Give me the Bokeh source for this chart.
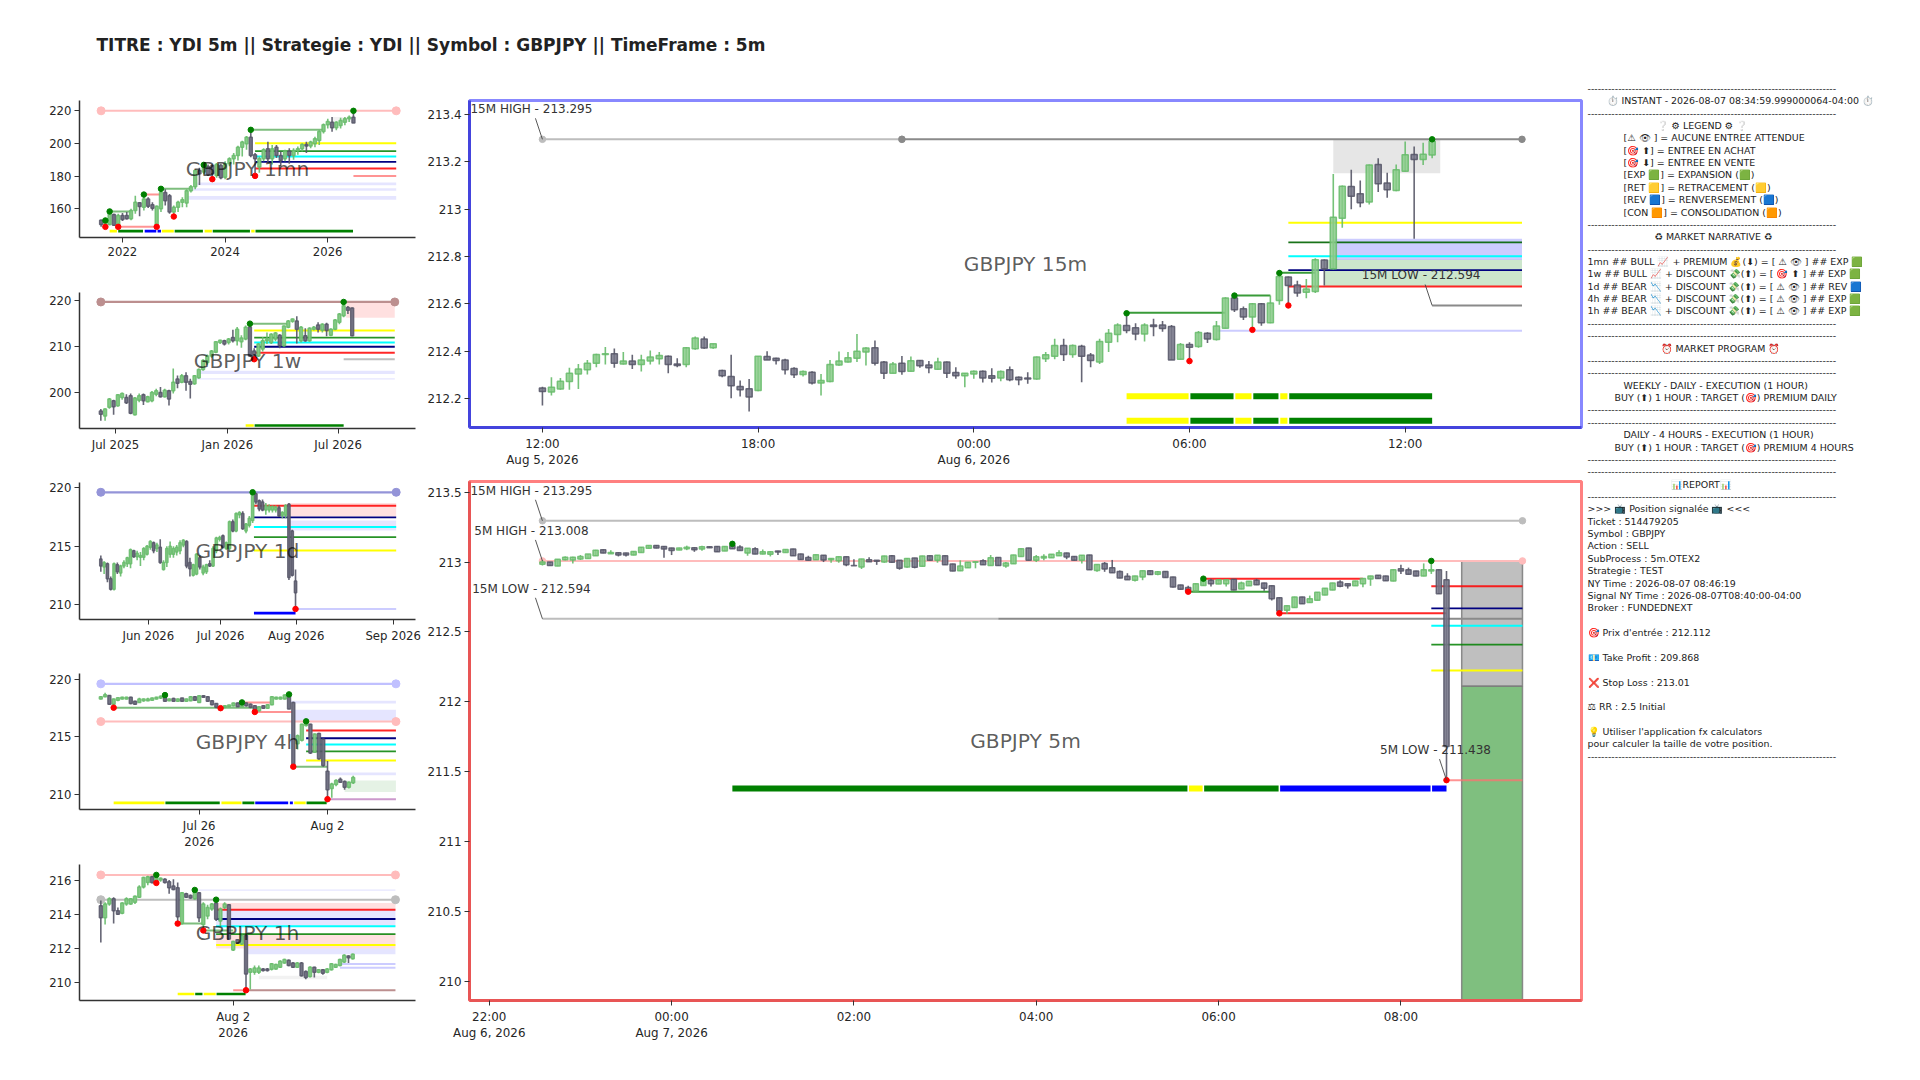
from bokeh.plotting import figure
from bokeh.layouts import row, column
from bokeh.models import Range1d, FixedTicker
from bokeh.core.properties import value
from bokeh.embed import file_html
from bokeh.resources import INLINE

TITLE = "TITRE : YDI 5m || Strategie : YDI || Symbol : GBPJPY || TimeFrame : 5m"

# candles are (open, close, high, low)
CANDLES_1MN = [
(153,150.5,153.5,149),(151,153,153,149),(150.5,157,158,150),(156.5,150,157,149.5),(150,156,157,149),(156,153.5,157.5,152.5),
(156,154,158,153.5),(154,159,160,153),(159,164,168,157),(163.7,161.4,164,155.5),(161,166,170,159),(166,161.5,167,160.5),
(162.5,160.3,164,159),(150,161.5,162,149),(160,170,171.5,158),(170,165,172,162),(168,158,169,157),(158,161,162,156),
(161,164,165,158),(164,165.5,167,161),(163.5,171,172,161),(171,173.5,174.5,170),(173.5,183.4,184,172),(183.4,181.4,185,174.6),
(182.4,185.8,187,181),(185.8,181,187,180),(186.4,181.4,187,178.5),(180.3,187,188,179),(186.4,179,187.5,178),(179.3,187.5,189,178),
(187.5,190.5,191.5,186),(190.5,192.5,194,187),(192.5,197.6,198.5,189.5),(197.6,200.7,201.5,192),(199.7,203.7,204.5,196),(203.7,192.5,208,191.5),
(193,190.5,194,181.5),(185.5,190.5,192,182),(190.5,196,197,189),(196.6,190.5,201,188),(190.5,196.6,199,187),(197.6,192.5,199,191),
(192.5,189.5,195,186),(190.5,195.2,196,189),(195.2,192.5,197,187.5),(192.5,195.6,197,190),(195.6,196.6,198,193),(196.6,199.3,200,195),
(199.3,198.3,201,194),(198.3,200.7,201.5,197),(199.7,202.7,204,197.5),(201.7,207.2,208,199),(207.2,211.3,212,206),(211.3,213.3,215,209),
(212.9,209.4,216,207),(209.4,212.9,213.5,208),(210.8,213.9,215.5,209),(212.9,214.9,216,211),(214.9,215.9,217,213),(215.9,212.3,219.6,212.3),
]
CANDLES_1W = [
(196,195.3,196.4,193.9),(194.9,196.4,196.6,193.9),(196.8,198.6,198.8,196.5),(198.2,196.9,198.4,195.2),(197.1,199.5,199.6,196.9),(198.9,199.8,200,198.4),
(198.9,197.8,199.6,197.5),(199.3,195.5,199.8,195.3),(195.2,198.8,199,195),(198.3,199.3,199.8,197.9),(199.5,198.2,199.8,197.3),(198,199.1,199.3,197.9),
(198.2,200,200.3,197.9),(199.6,200.4,200.8,199.2),(200,199.1,201.2,198.9),(199.1,200.5,200.8,198.9),(200.4,198.6,200.6,197.2),(200.4,202.2,205.2,199.8),
(202.9,202,203.7,200.9),(202.2,203.6,204,202),(203.6,202.2,204.4,200.4),(202.4,201.8,203,198.7),(201.9,203.6,203.8,201.7),(203.2,205,205.2,203),
(205,206.9,207.2,204.7),(206.5,207.9,208.2,206),(207.9,209,209.2,207.5),(208.7,211,211.1,208.5),(210.8,211.3,211.4,210.5),(211.2,210.5,211.4,210.2),
(210.8,211.6,211.8,210.4),(211.9,211.2,213.6,210.8),(211.2,213.7,214.2,210.2),(211,211.8,212.4,209.7),(211.6,214.1,214.5,211.3),(214.2,207.9,214.9,207.7),
(209,207.9,209.6,207.3),(207.9,210.5,210.7,207.7),(209.4,211.2,212,208.9),(211.2,211.6,213,210.5),(210.8,212.6,212.8,210.5),(211.6,212.9,213.1,211.1),
(212.4,210.1,212.6,209.6),(210.1,214.4,214.5,209.9),(214.1,215.5,215.7,213.9),(215.4,215.9,216,215.1),(215.5,213.7,216.5,210.6),(211.2,214.1,214.4,210.8),
(212.3,211.2,213.9,211),(211.2,213.9,214.1,211),(213.7,214.1,214.4,213.4),(214.6,213.7,215.2,213),(213.5,214.8,215,213),(214.8,213.4,215.1,212.2),
(212.4,213.7,213.9,212.2),(213.7,215.7,215.9,213.5),(215.2,217,217.2,214.8),(216.6,218.8,219.6,216.3),(218.4,217.8,218.7,217),(218.3,212.3,218.4,212.2),
]
CANDLES_1D = [
(213.9,213.3,214.2,212.8),(213.2,213.6,213.7,212.6),(213.5,212.2,213.6,211.9),(212.2,211.3,212.4,211.2),(211.3,213.5,213.6,211.2),(213.4,212.8,213.6,212.6),
(212.7,213.3,213.4,212.4),(213.3,213.6,213.8,213.1),(213.5,214,214.1,213.2),(213.5,214.7,214.8,213.1),(214.6,214.1,214.7,214),(214.1,214.4,214.6,213.8),
(214.05,214.2,214.5,213.3),(214.05,214.8,214.9,213.8),(214.3,215,215.1,214.2),(214.9,215.4,215.5,214.7),(215.3,214.6,215.4,214.4),(214.8,215.1,215.3,214.5),
(214.9,213.6,215.6,213.5),(213,213.6,213.8,212.9),(213.6,214.8,215,213.2),(214.3,215,215.4,214),(214.3,214.8,215,214),(214.5,214.9,215.1,214.2),
(214.6,215.3,215.5,214.3),(215.1,215.5,215.6,214.9),(215.4,213.3,215.5,213.1),(213.6,213.05,214,212.4),(212.5,213.4,213.5,212.4),(212.6,214.3,214.4,212.5),
(214,213.2,214.2,213),(212.7,213.2,213.4,212.5),(212.8,213.4,213.5,212.6),(213.5,213.3,213.8,213.2),(213.3,214.8,215,213.2),(214.6,215.7,215.8,214.4),
(215.6,215.75,215.9,215.4),(215.9,214.9,216,214.8),(214.8,215.3,215.4,214.7),(214.8,217.1,217.2,214.6),(217.1,216.3,217.3,216.2),(216.3,217.8,217.9,216.2),
(217.7,217.9,218,217.4),(217.8,216.5,218,216.4),(216.3,216.9,217,216.1),(216.8,217.4,217.6,216.6),(217.2,219.6,219.6,217),(219.5,218.8,219.6,218.6),
(218.9,218.2,219,218),(218.8,218.1,219,218),(218.1,218.5,218.7,217.7),(218.1,218.4,218.6,217.9),(218.1,218.4,218.5,217.9),(218.1,218.35,218.5,217.9),
(218.3,217.6,218.5,217.5),(217.65,217.9,218,217.4),(217.65,218.5,218.6,217.4),(218.6,212.3,218.7,212.1),(216.3,212.5,216.4,212.4),(212,211,213,209.6),
]
CANDLES_4H = [
(218.3,218.5,218.55,218.25),(218.5,218.67,218.85,218.45),(218.6,217.85,218.65,217.8),(217.85,218.3,218.35,217.5),(218.2,218.4,218.45,218.1),(218.3,218.45,218.5,218.25),
(218.3,218.45,218.5,218.25),(218.45,217.9,218.5,217.85),(218.1,217.85,218.15,217.8),(218,218.3,218.4,217.95),(218.15,218.3,218.35,218.05),(218.15,218.3,218.4,218.1),
(218.2,218.38,218.42,218.15),(218.3,218.45,218.5,218.25),(218.38,218.53,218.6,218.3),(218.45,218.1,218.65,218.05),(218.15,218.3,218.35,218.1),(218.35,218.1,218.4,218.05),
(218.1,218.3,218.35,218.05),(218.38,218.1,218.4,218.05),(218.1,218.3,218.35,218.05),(218.15,218.5,218.55,218.1),(218.5,218.2,218.55,218.15),(218,218.58,218.6,217.95),
(218.58,218.44,218.62,218.4),(218.5,218.1,218.55,218.05),(218.15,217.8,218.2,217.75),(217.9,217.57,217.95,217.5),(217.43,217.57,217.6,217.4),(217.57,217.7,217.75,217.5),
(217.63,217.77,217.8,217.6),(217.7,217.95,218,217.65),(217.95,217.63,218,217.6),(217.63,218,218.05,217.6),(217.95,217.7,218,217.65),(217.85,217.57,217.9,217.5),
(217.7,217.35,217.75,217.3),(217.28,217.63,217.65,217.2),(217.7,217.5,217.75,217.45),(217.5,217.8,217.85,217.45),(217.8,218.5,218.55,217.75),(218.3,218.45,218.5,218.25),
(218.3,218.45,218.5,218.25),(218.3,218.64,218.7,218.25),(218.58,217.43,218.7,217.4),(218,212.4,218.05,212.4),(214.4,215.1,215.2,213.9),(214.7,216.1,216.15,214.6),
(216,216.35,216.4,215.9),(216.1,213.6,216.15,213.5),(213.65,215.25,215.3,213.6),(215.3,213.1,215.35,213),(214.8,212.5,214.85,212.4),(212,210.4,212.9,209.6),
(210.5,210.9,211,209.7),(210.85,211.2,211.3,210.7),(211.3,211.05,211.45,211),(211.1,210.6,211.2,210.4),(210.6,211.05,211.1,210.5),(211,211.45,211.6,210.9),
]
CANDLES_1H = [
(214.5,213.8,214.8,212.35),(213.8,214.6,214.7,213.4),(214.6,214.9,215,214.5),(214.9,214.2,215,213.45),(214.2,214,214.4,213.95),(214.05,214.65,214.7,214),
(214.6,214.9,215,214.5),(214.6,214.9,214.95,214.55),(214.7,215.05,215.1,214.6),(215,215.6,215.7,214.95),(215.6,216.15,216.2,215.5),(215.85,216.2,216.25,215.7),
(216.2,215.85,216.25,215.8),(215.95,216.15,216.35,215.85),(216,216.1,216.15,215.9),(216.05,215.85,216.1,215.8),(215.9,215.55,216,215.2),(215.65,215.45,216.05,215.4),
(215.55,213.85,215.85,213.5),(213.45,215.25,215.3,213.4),(215.2,215,215.25,214.95),(215.1,214.95,215.15,214.9),(214.9,215.3,215.55,214.85),(215.25,213.8,215.3,213.55),
(213.4,214.6,214.7,213.2),(213.9,214.4,214.55,213.7),(214.3,214.6,214.65,214.2),(214.65,213.7,214.85,213.6),(213.6,214.3,214.4,213.3),(214.4,214.6,214.7,214.3),
(214.55,212.55,214.6,212.5),(211.9,212.4,212.45,211.85),(212.5,212.3,212.55,212.25),(212.25,212.75,212.8,212.2),(212.75,210.5,212.8,209.55),(210.6,210.8,210.85,209.6),
(210.6,210.85,211,210.45),(210.6,210.85,211,210.5),(210.8,210.7,210.85,210.65),(210.8,210.7,210.85,210.65),(210.78,211.1,211.15,210.7),(210.8,211.05,211.1,210.75),
(210.9,211.25,211.3,210.85),(211.15,211.35,211.4,211.1),(211.3,211,211.35,210.95),(211.15,210.9,211.2,210.85),(210.9,211.15,211.2,210.85),(211.15,210.4,211.2,210.35),
(210.65,210.3,210.7,210.2),(210.35,210.9,210.95,210.3),(210.9,210.6,210.92,210.3),(210.6,210.75,210.8,210.55),(210.75,210.55,210.8,210.45),(210.6,210.8,210.85,210.55),
(210.75,211.1,211.15,210.7),(210.9,211.05,211.1,210.85),(211,211.35,211.4,210.95),(211.2,211.6,211.65,211.15),(211.55,211.45,211.6,211.15),(211.4,211.65,211.7,211.35),
]
CANDLES_15M = [
(212.244,212.23,212.25,212.17),(212.227,212.248,212.29,212.213),(212.24,212.273,212.287,212.237),(212.272,212.307,212.33,212.237),(212.304,212.325,212.346,212.24),
(212.321,212.349,212.363,212.301),(212.349,212.386,212.389,212.332),(212.386,212.389,212.418,212.344),(212.389,212.349,212.411,212.33),(212.346,212.358,212.396,212.344),
(212.358,212.344,212.385,212.325),(212.344,212.363,212.385,212.314),(212.358,212.375,212.403,212.344),(212.368,212.382,212.396,212.344),(212.379,212.344,212.382,212.307),
(212.346,212.339,212.37,212.332),(212.344,212.414,212.417,212.332),(212.41,212.456,212.462,212.406),(212.451,212.413,212.462,212.41),(212.414,212.431,212.431,212.41),
(212.318,212.296,212.321,212.29),(212.293,212.254,212.385,212.201),(212.251,212.237,212.276,212.208),(212.241,212.206,212.282,212.145),(212.234,212.379,212.379,212.231),
(212.377,212.363,212.4,212.363),(212.37,212.361,212.372,212.344),(212.363,212.321,212.368,212.301),(212.327,212.3,212.332,212.287),(212.301,212.314,212.318,212.293),
(212.311,212.265,212.315,212.259),(212.265,212.276,212.304,212.213),(212.272,212.344,212.363,212.269),(212.342,212.358,212.399,212.338),(212.354,212.372,212.396,212.352),
(212.37,212.4,212.473,212.354),(212.396,212.413,212.417,212.339),(212.414,212.349,212.445,212.339),(212.354,212.307,212.358,212.282),(212.307,212.346,212.354,212.307),
(212.349,212.314,212.38,212.3),(212.315,212.36,212.377,212.314),(212.361,212.338,212.363,212.33),(212.342,212.33,212.358,212.307),(212.324,212.354,212.372,212.321),
(212.354,212.307,212.356,212.287),(212.31,212.296,212.332,212.283),(212.296,212.307,212.307,212.248),(212.304,212.315,212.318,212.283),(212.315,212.287,212.318,212.268),
(212.296,212.286,212.328,212.268),(212.287,212.314,212.318,212.273),(212.321,212.279,212.335,212.273),(212.29,212.279,212.293,212.256),(212.287,212.282,212.311,212.262),
(212.282,212.375,212.377,212.279),(212.368,212.385,212.396,212.354),(212.379,212.424,212.452,212.366),(212.424,212.386,212.452,212.358),(212.386,212.424,212.428,212.372),
(212.421,212.379,212.427,212.269),(212.384,212.361,212.392,212.332),(212.354,212.441,212.452,212.346),(212.438,212.476,212.494,212.396),(212.47,212.511,212.518,212.438),
(212.508,212.487,212.56,212.476),(212.499,212.473,212.518,212.446),(212.473,212.511,212.518,212.441),(212.511,212.504,212.537,212.463),(212.511,212.496,212.527,212.482),
(212.504,212.363,212.511,212.363),(212.366,212.428,212.434,212.365),(212.428,212.417,212.438,212.358),(212.42,212.479,212.485,212.414),(212.476,212.451,212.48,212.434),
(212.449,212.506,212.527,212.445),(212.497,212.625,212.628,212.496),(212.625,212.575,212.635,212.565),(212.579,212.544,212.589,212.532),(212.544,212.6,212.603,212.49),
(212.6,212.52,212.603,212.507),(212.52,212.603,212.635,212.518),(212.614,212.715,212.73,212.596),(212.713,212.677,212.715,212.593),(212.68,212.646,212.698,212.63),
(212.649,212.663,212.705,212.624),(212.652,212.786,212.793,212.646),(212.785,212.748,212.787,212.677),(212.748,212.966,213.149,212.745),(212.962,213.097,213.1,212.921),
(213.096,213.055,213.166,213.0),(213.065,213.027,213.121,213.008),(213.03,213.186,213.189,213.02),(213.189,213.107,213.215,213.072),(213.11,213.082,213.154,213.048),
(213.079,213.166,213.189,213.076),(213.16,213.23,213.286,213.159),(213.231,213.21,213.265,212.875),(213.21,213.232,213.28,213.187),(213.229,213.287,213.295,213.215),
]
CANDLES_5M = [
(212.985,213.0,213.015,212.975),(213.0,212.975,213.0,212.975),(212.972,213.02,213.02,212.97),(213.017,213.035,213.04,213.012),(213.015,213.035,213.038,212.99),(213.022,213.04,213.05,213.015),
(213.025,213.057,213.058,213.024),(213.045,213.085,213.087,213.044),(213.088,213.064,213.09,213.063),(213.06,213.069,213.085,213.058),(213.067,213.05,213.069,213.04),(213.064,213.05,213.066,213.04),
(213.05,213.076,213.078,213.048),(213.069,213.105,213.107,213.068),(213.098,213.119,213.12,213.097),(213.119,213.1,213.122,213.098),(213.112,213.093,213.114,213.03),(213.1,213.083,213.102,213.05),
(213.086,213.1,213.102,213.084),(213.095,213.105,213.117,213.085),(213.102,213.088,213.105,213.073),(213.093,213.11,213.117,213.08),(213.11,213.102,213.112,213.1),(213.112,213.074,213.114,213.072),
(213.079,213.112,213.114,213.078),(213.119,213.095,213.135,213.094),(213.107,213.083,213.12,213.082),(213.064,213.098,213.1,213.045),(213.095,213.057,213.105,213.055),(213.057,213.074,213.09,213.055),
(213.055,213.074,213.076,213.04),(213.079,213.071,213.08,213.05),(213.069,213.09,213.092,213.068),(213.093,213.045,213.095,213.043),(213.057,213.019,213.06,213.017),(213.033,213.012,213.045,213.01),
(213.017,213.052,213.054,213.015),(213.048,213.014,213.05,213.0),(213.017,213.026,213.028,212.995),(213.01,213.038,213.04,212.995),(213.038,212.981,213.04,212.97),(212.976,212.974,213.02,212.973),
(212.964,213.021,213.023,212.95),(213.017,213.002,213.035,213.0),(213.012,213.005,213.014,212.98),(213.0,213.043,213.045,212.995),(213.045,212.998,213.05,212.995),(213.012,212.955,213.014,212.945),
(212.964,213.026,213.028,212.96),(213.029,212.962,213.03,212.955),(212.969,213.043,213.045,212.967),(213.045,213.012,213.047,213.01),(213.012,213.048,213.05,212.995),(213.045,212.981,213.047,212.979),
(212.986,212.936,212.988,212.934),(212.938,212.971,213.012,212.935),(212.96,212.998,213.0,212.958),(212.998,213.002,213.005,212.955),(213.01,212.981,213.02,212.979),(212.976,213.031,213.05,212.974),
(213.033,212.976,213.035,212.974),(212.971,212.993,213.0,212.96),(212.988,213.05,213.052,212.986),(213.04,213.095,213.097,213.038),(213.1,213.012,213.102,213.01),(213.012,213.038,213.05,213.0),
(213.029,213.04,213.055,213.012),(213.031,213.055,213.057,213.03),(213.045,213.067,213.085,213.043),(213.064,213.036,213.067,213.02),(213.04,213.012,213.042,213.01),(213.012,213.048,213.05,212.99),
(213.05,212.945,213.052,212.943),(212.94,212.983,212.985,212.93),(212.99,212.95,213.0,212.93),(212.96,212.924,213.015,212.922),(212.933,212.886,212.94,212.884),(212.898,212.874,212.92,212.872),
(212.869,212.9,212.902,212.86),(212.893,212.938,212.94,212.87),(212.938,212.91,212.94,212.908),(212.912,212.93,212.935,212.905),(212.933,212.89,212.935,212.888),(212.893,212.821,212.895,212.817),
(212.836,212.805,212.838,212.803),(212.817,212.79,212.83,212.788),(212.793,212.845,212.847,212.79),(212.833,212.869,212.9,212.83),(212.869,212.845,212.88,212.825),(212.843,212.874,212.877,212.842),
(212.845,212.874,212.877,212.825),(212.876,212.8,212.878,212.798),(212.807,212.85,212.86,212.805),(212.831,212.862,212.864,212.83),(212.869,212.838,212.88,212.835),(212.85,212.812,212.852,212.795),
(212.831,212.738,212.833,212.725),(212.745,212.65,212.747,212.648),(212.655,212.688,212.69,212.63),(212.674,212.75,212.752,212.672),(212.75,212.702,212.752,212.7),(212.71,212.738,212.76,212.708),
(212.726,212.783,212.785,212.724),(212.764,212.812,212.814,212.762),(212.8,212.85,212.852,212.798),(212.857,212.826,212.87,212.82),(212.845,212.831,212.847,212.81),(212.831,212.864,212.866,212.829),
(212.845,212.883,212.885,212.82),(212.879,212.9,212.902,212.83),(212.905,212.883,212.907,212.88),(212.9,212.867,212.902,212.865),(212.864,212.945,212.947,212.862),(212.952,212.936,212.98,212.915),
(212.945,212.912,212.96,212.91),(212.936,212.9,212.938,212.898),(212.9,212.945,212.99,212.898),(212.936,212.945,213.008,212.915),(212.945,212.774,212.947,212.772),(212.874,211.68,212.936,211.438),
]

# levels: (first bar, last bar, price, kind)
LEVELS_1MN = [(0,69,219.8,"pink_end"),(2,7,158.4,"swing_g"),(35,52,208.2,"swing_g"),(14,21,172.2,"swing_g"),(10,14,168.7,"swing_r"),(4,13,149,"swing_r"),
              (36,69,200,"y"),(36,69,195.2,"g"),(36,69,191.9,"c"),(36,69,188.7,"n"),(36,69,184.6,"r"),(59,69,180.1,"swing_r")]
LEVELS_1W = [(0,69,219.6,"rosy_end"),(35,43.7,214.9,"swing_g"),(36,69,213.4,"y"),(36,69,211.9,"g"),(36,69,210.8,"c"),(36,69,209.9,"n"),(36,69,208.6,"r"),(57,69,207.2,"grey")]
LEVELS_1D = [(0,89.5,219.63,"blue_end"),(46.4,89.5,218.48,"r"),(46.4,89.5,217.47,"n"),(46.4,89.5,216.64,"c"),(46.4,89.5,215.78,"g"),(46.4,89.5,214.63,"y"),(59,89.5,209.6,"lav")]
LEVELS_4H = [(0,69,219.62,"lav_end"),(0,69,216.33,"pink_end"),(3,37,217.54,"swing_g"),(33,39.6,218,"swing_r"),(36,45,217.17,"swing_r"),(45,53,212.4,"swing_g"),
             (48,69,215.55,"r"),(48,69,214.88,"n"),(48,69,214.33,"c"),(48,69,213.73,"g"),(48,69,212.95,"y"),(53,69,209.57,"plum")]
LEVELS_1H = [(0,69,216.3,"pink_end"),(0,69,214.85,"grey_end"),(18,24,213.45,"swing_g"),(24,31,213.05,"swing_g"),(31,34,209.55,"swing_r"),(34,69,209.55,"rosy"),
             (27,69,214.26,"r"),(27,69,213.72,"n"),(27,69,213.3,"c"),(27,69,212.83,"g"),(27,69,212.2,"y"),(56,69,211.08,"lav"),(56,69,210.87,"lav")]
LEVELS_15M = [(0,40,213.295,"grey_end"),(40,109,213.295,"dgrey_end"),(65,76,212.562,"swing_dg"),(77,81,212.635,"swing_dg"),(82,86,212.731,"swing_dg"),(75,109,212.486,"lav"),
              (83,109,212.943,"y"),(83,109,212.86,"dg"),(83,109,212.801,"c"),(83,109,212.742,"n"),(83,109,212.673,"r"),(99,109,212.593,"dgrey")]
LEVELS_5M = [(0,129,213.295,"grey_end"),(0,129,213.008,"pink_end"),(0,60,212.594,"grey"),(60,129,212.594,"dgrey"),(87,108,212.881,"r"),(85,96,212.788,"swing_dg"),(97,119,212.633,"r"),(119,129,211.44,"swing_r"),
             (117,129,212.826,"r"),(117,129,212.669,"n"),(117,129,212.545,"c"),(117,129,212.41,"g"),(117,129,212.224,"y")]

# zones: (first bar, last bar, low price, high price, kind)
ZONES_1MN = [(22.5,69,174.4,176,"lav"),(21.5,69,171,172.6,"lav"),(20,69,165.5,167.9,"lav"),(54,59,213,216,"pale")]
ZONES_1W = [(57.6,69,216.2,219.6,"pink"),(23,69,204,204.7,"lav"),(22,69,202.8,203.1,"lav")]
ZONES_1D = [(57,89.5,217.55,218.7,"pink"),(57,89.5,216.35,217.2,"lav")]
ZONES_4H = [(44,69,217.9,218.15,"lav"),(45,69,216.4,217.37,"lav"),(53,69,211.65,211.9,"lav"),(57,69,210.2,211.2,"green_l")]
ZONES_1H = [(22,69,215.38,215.45,"lav"),(27,69,214.3,214.65,"pink"),(27,69,213.33,214.3,"lav"),(27,69,212,212.85,"pink"),(34,69,211.65,212,"lav2l"),(37,53,210.2,210.4,"pale")]
ZONES_15M = [(88,99.9,213.152,213.293,"greyz"),(88.1,109,212.785,212.875,"lav2"),(87,109,212.673,212.786,"green")]
ZONES_5M = [(121,129,212.112,213.008,"box_sl"),(121,129,209.868,212.112,"box_tp")]

# phases drawn as thick strips: (first bar, last bar, phase)
PHASE_1MN = [(2,3.7,"y"),(4,9.8,"g"),(10.2,12.9,"b"),(13.2,14,"b"),(14.2,17,"y"),(17.2,23.8,"g"),(24.2,25.9,"y"),(26.1,34.8,"g"),(35.1,35.9,"y"),(36.1,58.9,"g")]
PHASE_1W = [(34,35.9,"y"),(36.1,57,"g")]
PHASE_1D = [(46.4,59,"b")]
PHASE_4H = [(3,14.9,"y"),(15.1,27.8,"g"),(28.2,32.9,"y"),(33.1,35.9,"g"),(36.1,43.8,"b"),(44.2,44.9,"b"),(45.2,47.9,"y"),(48.1,52.8,"g")]
PHASE_1H = [(18,21.9,"y"),(22.1,23.8,"g"),(24.1,26.9,"y"),(27.1,33.9,"g")]
PHASE_15M = [(65,71.9,"y"),(72.1,76.9,"g"),(77.1,78.9,"y"),(79.1,81.9,"g"),(82.1,82.9,"y"),(83.1,99,"g")]
PHASE_5M = [(25,84.9,"g"),(85.1,86.9,"y"),(87.1,96.9,"g"),(97.1,116.9,"b"),(117.1,119,"b")]

# pivots: (bar, price)
UP_1MN = [(1,152.9),(2,158.4),(10,168.7),(14,172.2),(24,186.8),(35,208.2),(59,219.8)]
DN_1MN = [(1,149),(4,149),(13,149),(17,155.3),(26,178.1),(36,180.1)]
UP_1W = [(35,214.9),(57,219.6)]
DN_1W = [(36,207.2)]
UP_1D = [(46,219.63)]
DN_1D = [(59,209.6)]
UP_4H = [(15,218.64),(33,218),(44,218.7),(48,216.35)]
DN_4H = [(3,217.54),(28,217.5),(36,217.17),(45,212.4),(53,209.57)]
UP_1H = [(13,216.3),(22,215.42),(27,214.85)]
DN_1H = [(13,215.83),(18,213.45),(24,213.05),(34,209.55)]
UP_15M = [(65,212.56),(77,212.635),(82,212.73),(99,213.295)]
DN_15M = [(72,212.358),(79,212.49),(83,212.593)]
UP_5M = [(25,213.13),(87,212.881),(117,213.008)]
DN_5M = [(85,212.788),(97,212.633),(119,211.44)]

XT_1MN = [(4.98,"2022"),(28.98,"2024"),(52.98,"2026")]
XT_1W = [(3.44,"Jul 2025"),(29.7,"Jan 2026"),(55.7,"Jul 2026")]
XT_1D = [(14.4,"Jun 2026"),(36.3,"Jul 2026"),(59.2,"Aug 2026"),(88.6,"Sep 2026")]
XT_4H = [(23,"Jul 26\n2026"),(53,"Aug 2")]
XT_1H = [(31,"Aug 2\n2026")]
XT_15M = [(0,"12:00\nAug 5, 2026"),(24,"18:00"),(48,"00:00\nAug 6, 2026"),(72,"06:00"),(96,"12:00")]
XT_5M = [(-7,"22:00\nAug 6, 2026"),(17,"00:00\nAug 7, 2026"),(41,"02:00"),(65,"04:00"),(89,"06:00"),(113,"08:00")]
YT_1MN = [160,180,200,220]
YT_1W = [200,210,220]
YT_1D = [210,215,220]
YT_4H = [210,215,220]
YT_1H = [210,212,214,216]
YT_15M = [212.2,212.4,212.6,212.8,213,213.2,213.4]
YT_5M = [210,210.5,211,211.5,212,212.5,213,213.5]

# price labels: (bar, price, text)
NOTES_15M = [(0,213.295,"15M HIGH - 213.295"),(99,212.593,"15M LOW - 212.594")]
NOTES_5M = [(0,213.295,"15M HIGH - 213.295"),(0,213.008,"5M HIGH - 213.008"),(0,212.594,"15M LOW - 212.594"),(119,211.44,"5M LOW - 211.438")]

DASH = "-" * 73
REPORT_ROWS = [
 (0,DASH),(19,"⏱️ INSTANT - 2026-08-07 08:34:59.999000064-04:00 ⏱️"),(0,DASH),(69,"❔ ⚙ LEGEND ⚙ ❔"),
 (36,"[⚠ 👁 ] = AUCUNE ENTREE ATTENDUE"),(36,"[🎯 ⬆] = ENTREE EN ACHAT"),(36,"[🎯 ⬇] = ENTREE EN VENTE"),
 (36,"[EXP 🟩] = EXPANSION (🟩)"),(36,"[RET 🟨] = RETRACEMENT (🟨)"),(36,"[REV 🟦] = RENVERSEMENT (🟦)"),(36,"[CON 🟧] = CONSOLIDATION (🟧)"),
 (0,DASH),(67,"♻ MARKET NARRATIVE ♻"),(0,DASH),
 (0,"1mn ## BULL 📈 + PREMIUM 💰(⬇) = [ ⚠ 👁 ] ## EXP 🟩"),(0,"1w ## BULL 📈 + DISCOUNT 💸(⬆) = [ 🎯 ⬆ ] ## EXP 🟩"),
 (0,"1d ## BEAR 📉 + DISCOUNT 💸(⬆) = [ ⚠ 👁 ] ## REV 🟦"),(0,"4h ## BEAR 📉 + DISCOUNT 💸(⬆) = [ ⚠ 👁 ] ## EXP 🟩"),
 (0,"1h ## BEAR 📉 + DISCOUNT 💸(⬆) = [ ⚠ 👁 ] ## EXP 🟩"),(0,DASH),(0,DASH),(73,"⏰ MARKET PROGRAM ⏰"),(0,DASH),(0,DASH),
 (36,"WEEKLY - DAILY - EXECUTION (1 HOUR)"),(27,"BUY (⬆) 1 HOUR : TARGET (🎯) PREMIUM DAILY"),(0,DASH),(0,DASH),
 (36,"DAILY - 4 HOURS - EXECUTION (1 HOUR)"),(27,"BUY (⬆) 1 HOUR : TARGET (🎯) PREMIUM 4 HOURS"),(0,DASH),(0,DASH),
 (83,"📊REPORT📊"),(0,DASH),(0,">>> 📺 Position signalée 📺 <<<"),(0,"Ticket : 514479205"),(0,"Symbol : GBPJPY"),(0,"Action : SELL"),
 (0,"SubProcess : 5m.OTEX2"),(0,"Strategie : TEST"),(0,"NY Time : 2026-08-07 08:46:19"),(0,"Signal NY Time : 2026-08-07T08:40:00-04:00"),
 (0,"Broker : FUNDEDNEXT"),(0,""),(0,"🎯 Prix d'entrée : 212.112"),(0,""),(0,"💶 Take Profit : 209.868"),(0,""),(0,"❌ Stop Loss : 213.01"),(0,""),
 (0,"⚖ RR : 2.5 Initial"),(0,""),(0,"💡 Utiliser  l'application fx calculators"),(0,"pour calculer la taille de votre position."),(0,DASH),
]

FONT = "DejaVu Sans"
LEVEL_STYLE = {
 "r":("#ff0000",.85,2),"n":("#000080",1,1.8),"c":("#00ffff",1,2),"g":("#008000",.85,1.8),"y":("#ffff00",1,2),"dg":("#006400",.9,1.8),
 "swing_g":("#66b266",.85,2),"swing_dg":("#2e962e",.95,2),"swing_r":("#ff7070",.75,2),
 "pink_end":("#ffbcbc",1,2),"rosy_end":("#bc8f8f",1,2.2),"rosy":("#bc8f8f",1,2.2),"blue_end":("#9494d8",1,2.2),"lav_end":("#c0c0ff",1,2.2),
 "grey_end":("#bdbdbd",1,2),"dgrey_end":("#8a8a8a",1,2),"grey":("#bdbdbd",1,2),"dgrey":("#8a8a8a",1,2),"lav":("#ccccff",1,2),"plum":("#cc99cc",1,2),
}
ZONE_STYLE = {"lav":("#0000ff",.1,None),"lav2":("#0000ff",.2,None),"lav2l":("#0000ff",.1,None),"pink":("#ff0000",.12,None),"pale":("#808080",.1,None),
 "green":("#008000",.2,None),"green_l":("#008000",.1,None),"greyz":("#808080",.2,None),"box_sl":("#808080",.5,"#808080"),"box_tp":("#008000",.5,"#808080")}
PHASE_COLOR = {"y":"#ffff00","g":"#008000","b":"#0000ff"}


def panel(w, h, borders, x0, dx, yspan, candles, levels, zones, phases, phase_prices, phase_w, ups, downs, xt, yt, name,
          notes=(), spine="#333333", spine_w=1.5, outline=None, tick_size="11.7px"):
    left, top, right, bottom = borders
    fw, fh = w - left - right, h - top - bottom
    fl, fr = (-(x0) / dx, (fw - x0) / dx)   # x0 is measured from the frame's left edge
    p = figure(width=w, height=h, output_backend="svg", toolbar_location=None,
               x_range=Range1d(fl, fr), y_range=Range1d(*yspan),
               min_border_left=left, min_border_top=top, min_border_right=right, min_border_bottom=bottom,
               background_fill_color="white", border_fill_color="white")
    p.grid.visible = False
    p.outline_line_color = outline
    if outline:
        p.outline_line_width = 3
    for ax, ticks, labels, stand in ((p.xaxis[0], [t for t, _ in xt], {t: l for t, l in xt}, 4),
                                     (p.yaxis[0], yt, {v: f"{v:g}" for v in yt}, 3)):
        ax.ticker = FixedTicker(ticks=ticks)
        ax.major_label_overrides = labels
        ax.axis_line_color = spine
        ax.axis_line_width = spine_w
        ax.major_tick_line_color = "#333333"
        ax.major_tick_line_width = 1
        ax.major_tick_in = 0
        ax.major_tick_out = 5
        ax.minor_tick_line_color = None
        ax.major_label_text_font = FONT
        ax.major_label_text_font_size = tick_size
        ax.major_label_text_color = "#262626"
        ax.major_label_standoff = stand

    for i0, i1, lo, hi, kind in zones:
        c, a, edge = ZONE_STYLE[kind]
        p.quad(left=i0, right=i1, bottom=lo, top=hi, fill_color=c, fill_alpha=a,
               line_color=edge, line_width=1.5 if edge else 0, line_alpha=0.9 if edge else 0)
    for i0, i1, price, kind in levels:
        c, a, lw = LEVEL_STYLE[kind]
        p.segment(i0, price, i1, price, line_color=c, line_alpha=a, line_width=lw)
        if kind.endswith("_end"):
            p.scatter([i0, i1], [price, price], size=8 if w < 500 else 6.5, color=c, line_color=c)

    up = [(i, *c) for i, c in enumerate(candles) if c[1] >= c[0]]
    dn = [(i, *c) for i, c in enumerate(candles) if c[1] < c[0]]
    for rows, fill, edge in ((up, "#8acb8a", "#66bb6a"), (dn, "#777788", "#555566")):
        xs = [r[0] for r in rows]
        o = [r[1] for r in rows]
        c = [r[2] for r in rows]
        hi = [r[3] for r in rows]
        lo = [r[4] for r in rows]
        p.segment(xs, hi, xs, lo, line_color=edge, line_width=1.6, line_alpha=.9)
        p.vbar(xs, 0.68, [min(a, b) for a, b in zip(o, c)], [max(a, b) for a, b in zip(o, c)],
               fill_color=fill, line_color=edge, line_width=1.5, fill_alpha=.85, line_alpha=.85)

    for strip in phase_prices:
        for i0, i1, ph in phases:
            p.segment(i0, strip, i1, strip, line_color=PHASE_COLOR[ph], line_width=phase_w, line_cap="butt")

    size = 5.5
    if ups:
        p.scatter([u[0] for u in ups], [u[1] for u in ups], size=size, color="#008000")
    if downs:
        p.scatter([d[0] for d in downs], [d[1] for d in downs], size=size, color="#ff0000")

    ppu = fh / (yspan[1] - yspan[0])
    for i, price, label in notes:
        p.segment(i, price, i - 7 / dx, price + 21 / ppu, line_color="#444444", line_width=0.9)
        p.text([i], [price], text=[label], x_offset=-11, y_offset=-30, text_align="center", text_baseline="middle",
               text_font=value(FONT), text_font_size="12px", text_color="#333333")

    p.text([(fl + fr) / 2], [(yspan[0] + yspan[1]) / 2], text=[name], text_align="center", text_baseline="middle",
           text_font=value(FONT), text_font_size="20.2px", text_color="#000000", text_alpha=.65)
    return p


def blank(w, h):
    p = figure(width=w, height=h, output_backend="svg", toolbar_location=None, x_axis_type=None, y_axis_type=None,
               x_range=Range1d(0, w), y_range=Range1d(h, 0), min_border=0)
    p.grid.visible = False
    p.outline_line_color = None
    return p


title_fig = blank(1583, 90)
title_fig.text([96], [44], text=[TITLE], text_align="left", text_baseline="middle", text_font=value(FONT),
               text_font_size="17px", text_font_style="bold", text_color="#222222")

LB = 79  # room for the y labels of the small panels
p1 = panel(424, 192, (LB, 10, 9, 45), 21.6, 4.277, (142.5, 226.1), CANDLES_1MN, LEVELS_1MN, ZONES_1MN, PHASE_1MN, [146.4], 2.6, UP_1MN, DN_1MN, XT_1MN, YT_1MN, "GBPJPY 1mn")
p2 = panel(424, 190, (LB, 10, 9, 44), 21.33, 4.26, (192.2, 221.65), CANDLES_1W, LEVELS_1W, ZONES_1W, PHASE_1W, [192.85], 2.6, UP_1W, DN_1W, XT_1W, YT_1W, "GBPJPY 1w")
p3 = panel(424, 191, (LB, 10, 9, 44), 21.33, 3.3, (208.7, 220.47), CANDLES_1D, LEVELS_1D, ZONES_1D, PHASE_1D, [209.25], 2.6, UP_1D, DN_1D, XT_1D, YT_1D, "GBPJPY 1d")
p4 = panel(424, 191, (LB, 10, 9, 45), 21.33, 4.277, (208.67, 220.52), CANDLES_4H, LEVELS_4H, ZONES_4H, PHASE_4H, [209.25], 2.6, UP_4H, DN_4H, XT_4H, YT_4H, "GBPJPY 4h")
p5 = panel(424, 206, (LB, 10, 9, 60), 21.33, 4.27, (208.95, 216.91), CANDLES_1H, LEVELS_1H, ZONES_1H, PHASE_1H, [209.33], 2.6, UP_1H, DN_1H, XT_1H, YT_1H, "GBPJPY 1h")

m15 = panel(1159, 382, (44, 10, 2, 45), 73, 8.995, (212.0775, 213.459), CANDLES_15M, LEVELS_15M, ZONES_15M, PHASE_15M, [212.21, 212.106], 6, UP_15M, DN_15M, XT_15M, YT_15M,
            "GBPJPY 15m", NOTES_15M, spine="#4444dd", spine_w=3, outline="#8888ff", tick_size="11.9px")
m5 = panel(1159, 588, (44, 9, 2, 60), 73, 7.604, (209.864, 213.576), CANDLES_5M, LEVELS_5M, ZONES_5M, PHASE_5M, [211.381], 6, UP_5M, DN_5M, XT_5M, YT_5M,
           "GBPJPY 5m", NOTES_5M, spine="#e85555", spine_w=3, outline="#ff8080", tick_size="11.9px")

report = blank(329, 1060)
ROW0, ROWH, RX = 87.8, 12.37, 4
rows = [(RX + ind, ROW0 + k * ROWH, txt) for k, (ind, txt) in enumerate(REPORT_ROWS) if txt]
report.text([r[0] for r in rows], [r[1] for r in rows], text=[r[2] for r in rows], text_align="left", text_baseline="middle",
            text_font=value(FONT), text_font_size="9.45px", text_color="#222222")

layout = row(column(title_fig, row(column(p1, p2, p3, p4, p5, spacing=0), column(m15, m5, spacing=0), spacing=0), spacing=0), report, spacing=0)
open("out.html", "w").write(file_html(layout, INLINE))
